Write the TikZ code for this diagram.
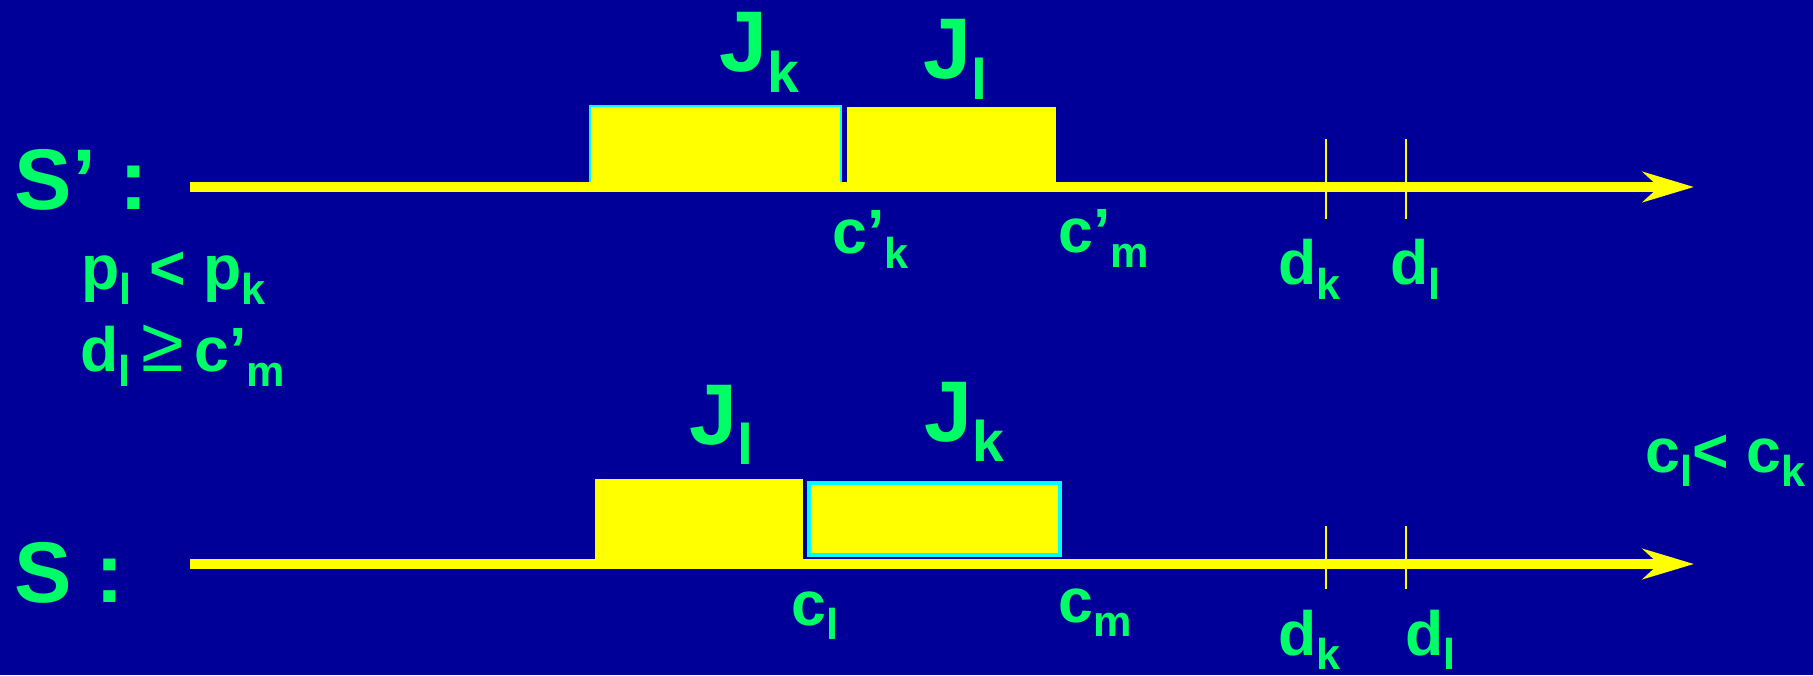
\documentclass[tikz,border=0pt]{standalone}
\usepackage{fontspec}
\setmainfont{Liberation Sans}
\usepackage {tikz}
\usetikzlibrary {positioning}
\usetikzlibrary{arrows.meta}
\usepackage{xcolor}
\definecolor{slideblue}{RGB}{0,0,153}
\definecolor{jobyellow}{RGB}{255,255,0}
\definecolor{labelgreen}{RGB}{0,255,102}
\definecolor{edgecyan}{RGB}{0,255,255}
\newcommand{\bsub}[1]{\raisebox{-5.8pt}{\fontsize{16.3}{16.3}\selectfont #1}}
\newcommand{\ssub}[1]{\raisebox{-4.2pt}{\fontsize{12.3}{12.3}\selectfont #1}}

\begin{document}
\begin{tikzpicture}[lbl node/.style={anchor=base west,inner sep=0,text=labelgreen,font=\bfseries\fontsize{17.8}{17.8}\selectfont},big node/.style={lbl node,font=\bfseries\fontsize{24.5}{24.5}\selectfont},job node/.style={anchor=south west,inner sep=0,outer sep=0,fill=jobyellow},done node/.style={job node,draw=edgecyan,line width=0.6pt},axis line/.style={draw=jobyellow,line width=2.85pt,-{Stealth[length=5.1mm,width=3mm,inset=1.6mm]}},tick line/.style={draw=jobyellow,line width=0.75pt}, ]
		\useasboundingbox (0,0) rectangle (18.13,6.75);
		\fill[slideblue] (0,0) rectangle (18.13,6.75);
		%jobs S'
		\node[done node,minimum width=2.51cm,minimum height=0.81cm] (jk1) at (5.90,4.88){};
		\node[job node,minimum width=2.09cm,minimum height=0.80cm] (jl1) at (8.47,4.88){};
		%jobs S
		\node[job node,minimum width=2.08cm,minimum height=0.85cm] (jl2) at (5.95,1.11){};
		\node[done node,line width=1.1pt,minimum width=2.51cm,minimum height=0.72cm] (jk2) at (8.09,1.20){};
		%time axes
		\coordinate (a1) at (1.90,4.88);
		\coordinate (b1) at (16.94,4.88);
		\coordinate (a2) at (1.90,1.11);
		\coordinate (b2) at (16.94,1.11);
		\draw[axis line] (a1) -- (b1);
		\draw[axis line] (a2) -- (b2);
		%deadlines
		\foreach \x/\n in {13.26/k,14.06/l}
		{
		    \coordinate (dt\n1) at (\x,5.36);
		    \coordinate (db\n1) at (\x,4.56);
		    \coordinate (dt\n2) at (\x,1.49);
		    \coordinate (db\n2) at (\x,0.86);
		    \draw[tick line] (dt\n1) -- (db\n1);
		    \draw[tick line] (dt\n2) -- (db\n2);
		}
		%labels
		\node[big node] (sp) at (0.14,4.65){S’ :};
		\node[big node] (s) at (0.14,0.73){S :};
		\node[big node] (jkt) at (7.19,6.03){J\bsub{k}};
		\node[big node] (jlt) at (9.23,5.96){J\bsub{l}};
		\node[big node] (jlb) at (6.89,2.31){J\bsub{l}};
		\node[big node] (jkb) at (9.24,2.34){J\bsub{k}};
		\node[lbl node] (ckp) at (8.32,4.21){c’\ssub{k}};
		\node[lbl node] (cmp) at (10.58,4.22){c’\ssub{m}};
		\node[lbl node] (dkt) at (12.78,3.90){d\ssub{k}};
		\node[lbl node] (dlt) at (13.90,3.90){d\ssub{l}};
		\node[lbl node] (prio) at (0.81,3.85){p\ssub{l} < p\ssub{k}};
		\node[lbl node] (due) at (0.80,3.03){d\ssub{l}\,{\mdseries\fontsize{22}{22}\selectfont ≥}\,c’\ssub{m}};
		\node[lbl node] (cl) at (7.91,0.50){c\ssub{l}};
		\node[lbl node] (cm) at (10.58,0.53){c\ssub{m}};
		\node[lbl node] (dkb) at (12.78,0.20){d\ssub{k}};
		\node[lbl node] (dlb) at (14.05,0.20){d\ssub{l}};
		\node[lbl node] (cmpr) at (16.45,2.03){c\ssub{l}< c\ssub{k}};
\end{tikzpicture}
\end{document}
